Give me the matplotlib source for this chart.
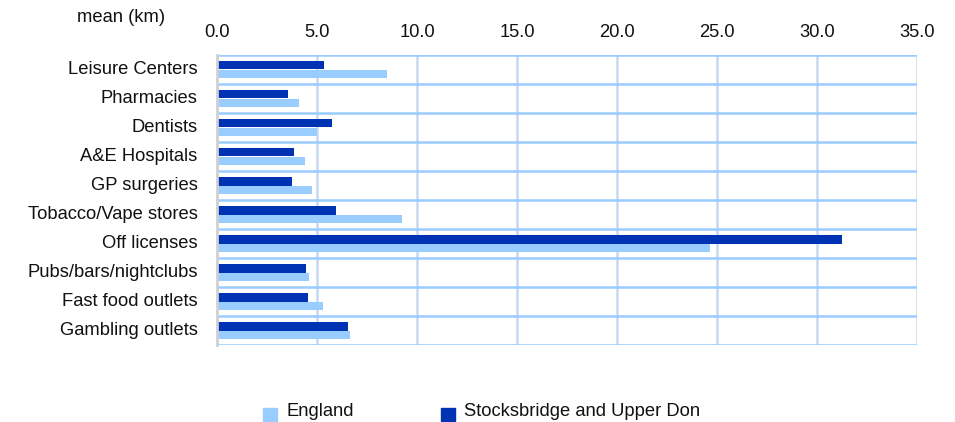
import matplotlib
matplotlib.use("Agg")
import matplotlib.pyplot as plt
import numpy as np
from matplotlib.patches import Rectangle

plt.rcParams['font.family'] = ['Liberation Sans', 'DejaVu Sans']

categories = ["Leisure Centers", "Pharmacies", "Dentists", "A&E Hospitals", "GP surgeries",
              "Tobacco/Vape stores", "Off licenses", "Pubs/bars/nightclubs",
              "Fast food outlets", "Gambling outlets"]
england = [8.5, 4.1, 5.0, 4.4, 4.75, 9.25, 24.65, 4.6, 5.3, 6.65]
local = [5.35, 3.55, 5.75, 3.85, 3.75, 5.95, 31.25, 4.45, 4.55, 6.55]
xticks = [0, 5, 10, 15, 20, 25, 30, 35]

c_eng = "#99CCFF"
c_loc = "#0033B3"
fs = 13.2

fig = plt.figure(figsize=(9.55, 4.22), dpi=100)
ax = fig.add_axes([217/955, 1-345/422, 700/955, 290/422])

n = len(categories)
y = np.arange(n)
h = 0.276
ax.barh(y - h/2, local, height=h, color=c_loc, zorder=3)
ax.barh(y + h/2, england, height=h, color=c_eng, zorder=3)

ax.set_xlim(0, 35)
ax.set_ylim(n - 0.5, -0.5)
ax.set_yticks(y - 0.07)
ax.set_yticklabels(categories, fontsize=fs, color="#111111")
ax.set_xticks(xticks)
ax.set_xticklabels([f"{v:.1f}" for v in xticks], fontsize=fs, color="#111111")
ax.xaxis.tick_top()
ax.tick_params(axis='y', length=0, pad=14)
ax.tick_params(axis='x', length=0, pad=10)

for v in xticks[1:]:
    ax.axvline(v, color="#C6D9F1", lw=1.8, zorder=1)
for b in np.arange(-0.5, n, 1.0):
    ax.axhline(b, color="#99CCFF", lw=1.8, zorder=2)

for s in ['top', 'right', 'bottom']:
    ax.spines[s].set_visible(False)
ax.spines['left'].set_color("#D0D0D0")
ax.spines['left'].set_linewidth(2)
ax.spines['left'].set_zorder(4)

fig.text(77/955, 1-17/422, "mean (km)", fontsize=fs, va='center', ha='left', color="#111111")

# legend
fig.patches.append(Rectangle((263/955, 1-421/422), 14/955, 13/422, transform=fig.transFigure,
                             color=c_eng, figure=fig))
fig.text(287/955, 1-411/422, "England", fontsize=fs, va='center', ha='left', color="#111111")
fig.patches.append(Rectangle((441/955, 1-421/422), 14/955, 13/422, transform=fig.transFigure,
                             color=c_loc, figure=fig))
fig.text(464/955, 1-411/422, "Stocksbridge and Upper Don", fontsize=fs, va='center', ha='left',
         color="#111111")

fig.savefig("out.png", dpi=100)
